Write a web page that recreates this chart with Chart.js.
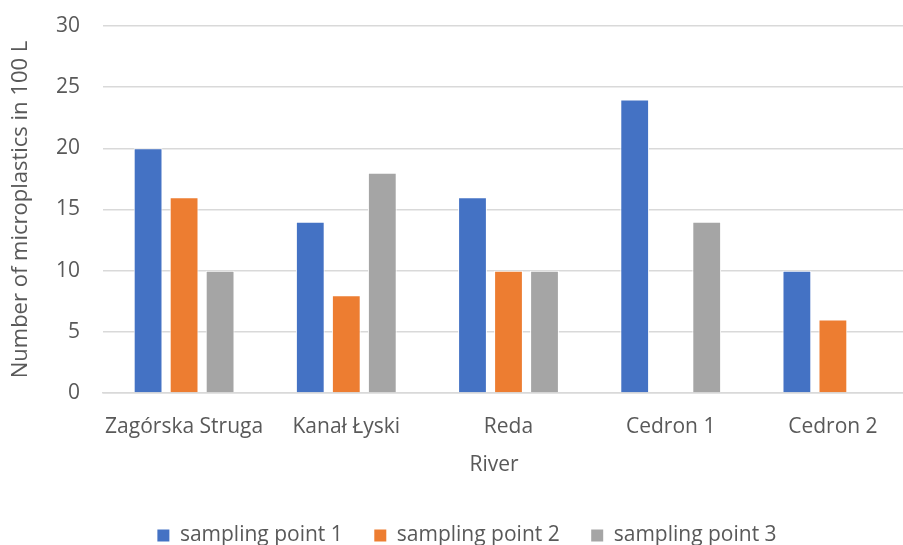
<!DOCTYPE html>
<html>
<head>
<meta charset="utf-8">
<script src="https://cdn.jsdelivr.net/npm/chart.js@4/dist/chart.umd.min.js"></script>
<style>
  html, body { margin: 0; padding: 0; background: #fff; overflow: hidden; }
  #wrap { position: absolute; left: 0; top: 0; width: 925px; height: 545px; }
</style>
</head>
<body>
<div id="wrap"><canvas id="c" width="925" height="545"></canvas></div>
<script>
const rivers = ['Zagórska Struga', 'Kanał Łyski', 'Reda', 'Cedron 1', 'Cedron 2'];
const point1 = [20, 14, 16, 24, 10];
const point2 = [16, 8, 10, null, 6];
const point3 = [10, 18, 10, 14, null];
const seriesNames = ['sampling point 1', 'sampling point 2', 'sampling point 3'];
const yTicks = [0, 5, 10, 15, 20, 25, 30];
const xTitle = 'River';
const yTitle = 'Number of microplastics in 100 L';

const FONT = '"Open Sans", sans-serif';
const SIZE = 21;
const TEXT = '#595959';
const GRID = '#d9d9d9';

function series(label, data, color) {
  return {
    label, data,
    backgroundColor: color,
    borderColor: '#ffffff',
    borderWidth: 1,
    barPercentage: 0.8,
    categoryPercentage: 0.666
  };
}

// Drops the spare strip Chart.js leaves under a bottom legend, nudges the
// legend row to the right, and writes the category-axis title.
const layoutTweaks = {
  id: 'layoutTweaks',
  beforeLayout(chart) {
    const lg = chart.legend;
    if (lg && !lg.__trimmed) {
      const fit = lg.fit.bind(lg);
      lg.fit = function () { fit(); this.height -= 11; };
      lg.__trimmed = true;
    }
  },
  afterLayout(chart) {
    const lg = chart.legend;
    if (lg) { lg.left += 10; lg.right += 10; }
  },
  afterDraw(chart) {
    const { ctx, chartArea } = chart;
    ctx.save();
    ctx.font = `${SIZE}px ${FONT}`;
    ctx.fillStyle = TEXT;
    ctx.textAlign = 'center';
    ctx.textBaseline = 'middle';
    ctx.fillText(xTitle, chartArea.left + 391, chartArea.bottom + 72);
    ctx.restore();
  }
};

new Chart(document.getElementById('c'), {
  type: 'bar',
  data: {
    labels: rivers,
    datasets: [
      series(seriesNames[0], point1, '#4472c4'),
      series(seriesNames[1], point2, '#ed7d31'),
      series(seriesNames[2], point3, '#a5a5a5')
    ]
  },
  plugins: [layoutTweaks],
  options: {
    responsive: false,
    animation: false,
    layout: { padding: { top: 26, right: 11, left: 0, bottom: 0 } },
    plugins: {
      tooltip: { enabled: false },
      legend: {
        position: 'bottom',
        labels: {
          font: { family: FONT, size: SIZE },
          color: TEXT,
          boxWidth: 12,
          boxHeight: 12,
          padding: 0,
          generateLabels(chart) {
            const items = Chart.defaults.plugins.legend.labels.generateLabels(chart);
            items.forEach((it, i) => {
              it.lineWidth = 0;
              if (i < items.length - 1) it.text = it.text + '\u2003\u2002';
            });
            return items;
          }
        }
      }
    },
    scales: {
      x: {
        grid: { display: false, drawTicks: false },
        border: { display: true, color: GRID, width: 1.5 },
        ticks: { font: { family: FONT, size: SIZE }, color: TEXT, padding: 21, maxRotation: 0 },
        afterFit(scale) { scale.height = 132; }
      },
      y: {
        min: 0, max: 30,
        afterBuildTicks(scale) { scale.ticks = yTicks.map(v => ({ value: v })); },
        grid: { color: GRID, lineWidth: 1.5, drawTicks: false },
        border: { display: false },
        ticks: { font: { family: FONT, size: SIZE }, color: TEXT, padding: 23 },
        title: {
          display: true, text: yTitle,
          font: { family: FONT, size: 22 }, color: TEXT,
          padding: { top: 8, bottom: 0 }
        },
        afterFit(scale) {
          scale.width = 103;
          scale.paddingTop = 0;
          scale.paddingBottom = 0;
        }
      }
    }
  }
});
</script>
</body>
</html>
